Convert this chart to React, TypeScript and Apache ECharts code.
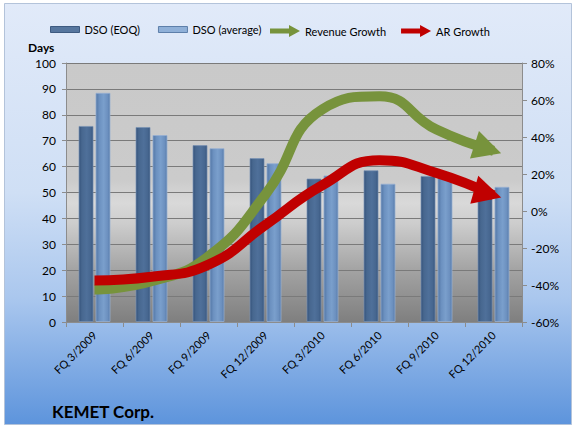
import React, { useEffect, useRef } from 'react';
import * as echarts from 'echarts';

const categories = ['FQ 3/2009', 'FQ 6/2009', 'FQ 9/2009', 'FQ 12/2009', 'FQ 3/2010', 'FQ 6/2010', 'FQ 9/2010', 'FQ 12/2010'];
const dsoEoq = [75.7, 75.3, 68.3, 63.3, 55.4, 58.6, 56.4, 51.3];
const dsoAvg = [88.5, 72.2, 67.1, 61.3, 56.6, 53.4, 57.1, 52.2];
const revenueGrowth = [-42.5, -38, -24.5, 9, 55, 62, 44, 32.5];
const arGrowth = [-37.5, -35.5, -29, -7.5, 14, 27.5, 20.5, 8.5];

const FONT = 'Lato, "Open Sans", sans-serif';
const GREEN = '#77933c';
const RED = '#c00000';
const ARROW_ICON = 'path://M0,3.5 L19,3.5 L19,0 L30,6 L19,12 L19,8.5 L0,8.5 Z';

function withArrow(values: number[], angleDeg: number) {
  const a = (angleDeg * Math.PI) / 180;
  const back = 6;
  return values.map((v, i) =>
    i === values.length - 1
      ? {
          value: v,
          symbol: 'triangle',
          symbolSize: [29, 28],
          symbolRotate: -90 - angleDeg,
          symbolOffset: [-back * Math.cos(a), -back * Math.sin(a)],
        }
      : v
  );
}

const hGrad = (stops: [number, string][]) => ({
  type: 'linear',
  x: 0,
  y: 0,
  x2: 1,
  y2: 0,
  colorStops: stops.map(([offset, color]) => ({ offset, color })),
});
const vGrad = (stops: [number, string][]) => ({
  type: 'linear',
  x: 0,
  y: 0,
  x2: 0,
  y2: 1,
  colorStops: stops.map(([offset, color]) => ({ offset, color })),
});

const eoqColor = hGrad([
  [0, '#34527a'],
  [0.2, '#47678f'],
  [0.55, '#4f709a'],
  [0.85, '#46668f'],
  [1, '#36547c'],
]);
const avgColor = hGrad([
  [0, '#5377a6'],
  [0.25, '#6c91c0'],
  [0.55, '#7a9fcc'],
  [0.85, '#6b8fbe'],
  [1, '#5579a8'],
]);

export default function App() {
  const ref = useRef<HTMLDivElement>(null);
  useEffect(() => {
    document.body.style.margin = '0';
    if (!ref.current) return;
    const chart = echarts.init(ref.current, null, { renderer: 'svg' });
    chart.setOption({
      animation: false,
      backgroundColor: '#ffffff',
      textStyle: { fontFamily: FONT },
      graphic: [
        {
          type: 'rect',
          z: -100,
          silent: true,
          shape: { x: 4.5, y: 3.5, width: 567, height: 421 },
          style: {
            fill: vGrad([
              [0, '#e1eaf9'],
              [0.45, '#cfdff5'],
              [0.7, '#aac7ee'],
              [1, '#5d94dc'],
            ]),
            stroke: '#b3c3da',
            lineWidth: 1,
          },
        },
      ],
      title: [
        {
          text: 'KEMET Corp.',
          left: 47,
          top: 398,
          textStyle: { fontFamily: FONT, fontWeight: 'bold', fontSize: 17, color: '#000' },
        },
        {
          text: 'Days',
          left: 23,
          top: 36,
          textStyle: { fontFamily: FONT, fontWeight: 'bold', fontSize: 12, color: '#000' },
        },
      ],
      legend: [
        {
          left: 45,
          top: 19,
          itemWidth: 29,
          itemHeight: 6,
          itemGap: 18,
          textStyle: { fontFamily: FONT, fontSize: 11, color: '#000' },
          data: [
            { name: 'DSO (EOQ)', icon: 'rect', itemStyle: { color: '#56769e', borderColor: '#3d5a80', borderWidth: 1 } },
            { name: 'DSO (average)', icon: 'rect', itemStyle: { color: '#8fb0d8', borderColor: '#5d7faa', borderWidth: 1 } },
          ],
        },
        {
          left: 265,
          top: 20,
          itemWidth: 30,
          itemHeight: 12,
          itemGap: 15,
          textStyle: { fontFamily: FONT, fontSize: 11, color: '#000' },
          data: [
            { name: 'Revenue Growth', icon: ARROW_ICON, itemStyle: { color: GREEN, borderWidth: 0 } },
            { name: 'AR Growth', icon: ARROW_ICON, itemStyle: { color: RED, borderWidth: 0 } },
          ],
        },
      ],
      grid: {
        left: 66,
        right: 53,
        top: 63,
        bottom: 105,
        show: true,
        borderWidth: 0,
        backgroundColor: vGrad([
          [0, '#c9c9c9'],
          [0.45, '#cbcbcb'],
          [0.54, '#d9d9d9'],
          [0.62, '#cdcdcd'],
          [0.8, '#a3a3a3'],
          [1, '#7f7f7f'],
        ]),
      },
      xAxis: {
        type: 'category',
        data: categories,
        axisLine: { show: true, lineStyle: { color: '#8c8c8c', width: 1 } },
        axisTick: { show: true, length: 5, lineStyle: { color: '#8c8c8c' } },
        axisLabel: { rotate: 45, fontSize: 11, color: '#000', fontFamily: FONT, margin: 11 },
      },
      yAxis: [
        {
          type: 'value',
          min: 0,
          max: 100,
          interval: 10,
          axisLine: { show: true, lineStyle: { color: '#8c8c8c' } },
          axisTick: { show: true, length: 4, lineStyle: { color: '#8c8c8c' } },
          axisLabel: { fontSize: 12, color: '#000', fontFamily: FONT, margin: 10 },
          splitLine: { show: true, lineStyle: { color: '#7a7a7a', width: 1 } },
        },
        {
          type: 'value',
          min: -60,
          max: 80,
          interval: 20,
          position: 'right',
          axisLine: { show: true, lineStyle: { color: '#8c8c8c' } },
          axisTick: { show: true, length: 5, lineStyle: { color: '#8c8c8c' } },
          axisLabel: { fontSize: 12, color: '#000', fontFamily: FONT, margin: 9, formatter: '{value}%' },
          splitLine: { show: false },
        },
      ],
      series: [
        {
          name: 'DSO (EOQ)',
          type: 'bar',
          data: dsoEoq,
          barWidth: 15,
          barGap: '13%',
          itemStyle: { color: eoqColor, borderColor: 'rgba(120,145,180,0.7)', borderWidth: 1 },
          z: 2,
        },
        {
          name: 'DSO (average)',
          type: 'bar',
          data: dsoAvg,
          barWidth: 15,
          itemStyle: { color: avgColor, borderColor: 'rgba(150,175,210,0.8)', borderWidth: 1 },
          z: 2,
        },
        {
          name: 'Revenue Growth',
          type: 'line',
          yAxisIndex: 1,
          smooth: 0.5,
          symbol: 'none',
          data: withArrow(revenueGrowth, 18),
          lineStyle: { color: GREEN, width: 10, cap: 'butt' },
          itemStyle: { color: GREEN },
          z: 3,
        },
        {
          name: 'AR Growth',
          type: 'line',
          yAxisIndex: 1,
          smooth: 0.5,
          symbol: 'none',
          data: withArrow(arGrowth, 16),
          lineStyle: { color: RED, width: 10, cap: 'butt' },
          itemStyle: { color: RED },
          z: 4,
        },
      ],
    });
    return () => chart.dispose();
  }, []);
  return <div ref={ref} style={{ width: 575, height: 427 }} />;
}
